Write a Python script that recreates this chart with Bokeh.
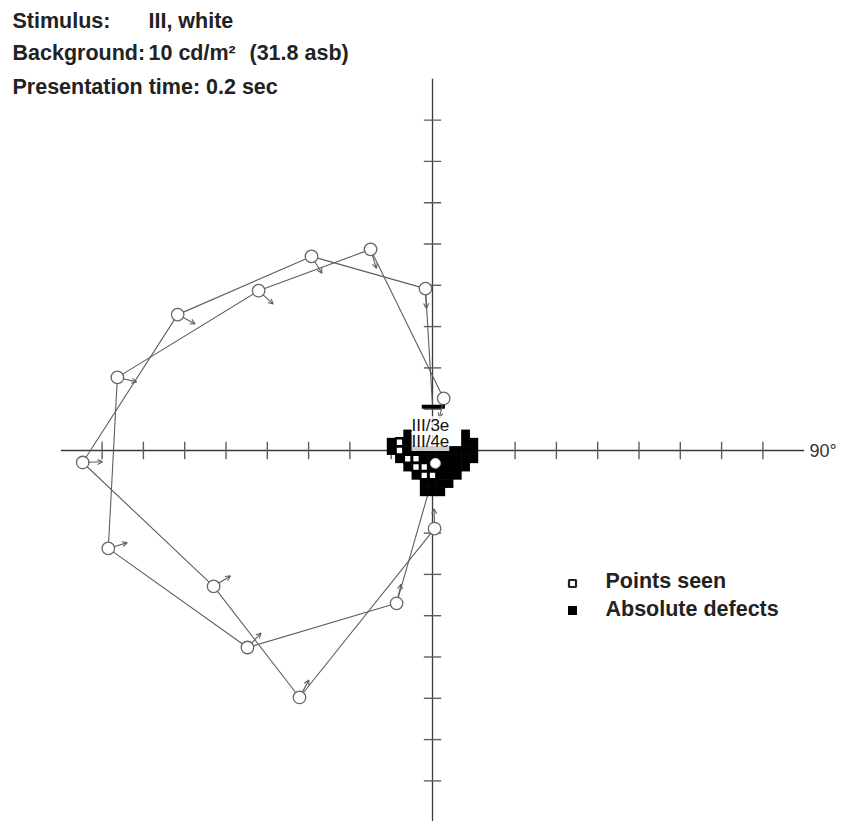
from bokeh.plotting import figure
from bokeh.models import Range1d, Label, Arrow, OpenHead, ColumnDataSource
from bokeh.embed import file_html
from bokeh.resources import INLINE
import math

# ---------------- data (degrees of visual field) ----------------
tick_values = [10, 20, 30, 40, 50, 60, 70, 80]
axis_limit = 90

# isopter A (outer path), first point is the end at the central scotoma
iso_a_x = [0.0, -1.7, -29.3, -61.7, -84.7, -53.0, -32.2, 0.5]
iso_a_y = [10.9, 39.2, 47.0, 32.9, -2.9, -32.9, -59.8, -18.9]
iso_a_seen = [False, True, True, True, True, True, True, True]

# isopter B, last point is the end at the central scotoma
iso_b_x = [2.7, -15.0, -42.1, -76.3, -78.5, -44.8, -8.7, -1.0]
iso_b_y = [12.6, 48.7, 38.7, 17.7, -23.7, -47.7, -37.0, -10.2]
iso_b_seen = [True, True, True, True, True, True, True, False]

# inner kinetic points
inner_x = [1.2, 0.7]
inner_y = [2.2, -3.1]

# static grid: absolute defects (rows -> x positions)
defect_rows = {
    4: [-6, 8],
    2: [-10, -6, 8, 10],
    0: [-10, -6, -4, -2, 0, 2, 4, 6, 8, 10],
    -2: [-8, -2, 0, 2, 4, 6, 8, 10],
    -4: [-6, 0, 2, 4, 6, 8],
    -6: [-4, 2, 4, 6],
    -8: [-2, 0, 2, 4],
    -10: [-2, 0, 2],
}
seen_grid_x = [-8, -8, -6, -4, -4, -2, -2, 0]
seen_grid_y = [2, 0, -2, -2, -4, -4, -6, -6]

bar_x = [-2.6, 3.0]
bar_y = [10.6, 10.6]

isopter_labels = ["III/3e", "III/4e"]
legend_labels = ["Points seen", "Absolute defects"]
header_keys = ["Stimulus:", "Background:", "Presentation time: 0.2 sec"]
header_vals = [["III, white"], ["10 cd/m\u00b2", "(31.8 asb)"], []]

# ---------------- layout helpers (page pixels -> degrees) ----------------
S = 4.13
CX, CY = 432.0, 450.0
OFF = 0
W, H = 841, 821


def dx(px):
    return (px - CX) / S


def dy(py):
    return (CY - py) / S


p = figure(width=W, height=H, output_backend="svg", toolbar_location=None,
           x_range=Range1d(dx(OFF), dx(OFF + W)), y_range=Range1d(dy(OFF + H), dy(OFF)),
           x_axis_location=None, y_axis_location=None, min_border=0,
           outline_line_color=None, background_fill_color="white",
           border_fill_color="white")
p.xgrid.visible = False
p.ygrid.visible = False

AX = "#3a3a3a"
LN = "#5e5e5e"

# axes
p.segment(x0=[-axis_limit, 0], y0=[0, -axis_limit], x1=[axis_limit, 0], y1=[0, axis_limit],
          line_color=AX, line_width=1.3)
tl = 2.1
tx = [s * t for t in tick_values for s in (-1, 1)]
p.segment(x0=tx, y0=[-tl] * len(tx), x1=tx, y1=[tl] * len(tx), line_color=LN, line_width=1.4)
p.segment(x0=[-tl] * len(tx), y0=tx, x1=[tl] * len(tx), y1=tx, line_color=LN, line_width=1.4)

# isopter lines
p.line(iso_a_x, iso_a_y, line_color=LN, line_width=1.1)
p.line(iso_b_x, iso_b_y, line_color=LN, line_width=1.1)

# arrows (direction towards fixation)
xs, ys, xe, ye, cx_, cy_ = [], [], [], [], [], []
for X, Y, SEEN in zip(iso_a_x + iso_b_x, iso_a_y + iso_b_y, iso_a_seen + iso_b_seen):
    if not SEEN:
        continue
    r = math.hypot(X, Y)
    ux, uy = -X / r, -Y / r
    xs.append(X + 1.4 * ux); ys.append(Y + 1.4 * uy)
    xe.append(X + 4.8 * ux); ye.append(Y + 4.8 * uy)
    cx_.append(X); cy_.append(Y)
asrc = ColumnDataSource(dict(xs=xs, ys=ys, xe=xe, ye=ye))
p.add_layout(Arrow(end=OpenHead(size=5, line_color=LN, line_width=1.1), source=asrc,
                   x_start="xs", y_start="ys", x_end="xe", y_end="ye",
                   line_color=LN, line_width=1.1))

p.scatter(cx_, cy_, marker="circle", size=12.5, fill_color="white", line_color="#666666", line_width=1.3)

# central static grid
d_x, d_y = [], []
for row, cols in defect_rows.items():
    for c in cols:
        d_x.append(c); d_y.append(row)
p.scatter(d_x, d_y, marker="square", size=8.8, fill_color="black", line_color="black", line_width=0)
p.scatter(seen_grid_x, seen_grid_y, marker="square", size=7.8, fill_color="white",
          line_color="black", line_width=2.5)
p.line(bar_x, bar_y, line_color="black", line_width=4)
p.scatter(inner_x, inner_y, marker="circle", size=10, fill_color="white", line_color="#bbbbbb", line_width=1)

# isopter labels
for txt, py in zip(isopter_labels, [425, 441]):
    p.add_layout(Label(x=dx(411), y=dy(py), text=txt, text_font="Liberation Sans",
                       text_font_size="17px", text_baseline="middle", text_align="left",
                       text_color="#111111", background_fill_color="white",
                       background_fill_alpha=0.8))

# 90 degree label
p.add_layout(Label(x=dx(809), y=dy(450), text="90\u00b0", text_font="Liberation Sans",
                   text_font_size="18px", text_baseline="middle", text_align="left",
                   text_color="#333333"))

# header
for i, (k, vals) in enumerate(zip(header_keys, header_vals)):
    base = [20, 52, 86][i]
    p.add_layout(Label(x=dx(12), y=dy(base), text=k, text_font="Liberation Sans",
                       text_font_style="bold", text_font_size="21.5px",
                       text_baseline="alphabetic", text_color="#222222"))
    for v, px in zip(vals, [148, 249]):
        p.add_layout(Label(x=dx(px), y=dy(base), text=v, text_font="Liberation Sans",
                           text_font_style="bold", text_font_size="21.5px",
                           text_baseline="alphabetic", text_color="#222222"))

# legend
p.scatter([dx(572)], [dy(583)], marker="square", size=7, fill_color="white",
          line_color="#222222", line_width=2.2)
p.scatter([dx(572)], [dy(610)], marker="square", size=9, fill_color="black",
          line_color="black", line_width=0)
for txt, py in zip(legend_labels, [580, 608]):
    p.add_layout(Label(x=dx(605), y=dy(py), text=txt, text_font="Liberation Sans",
                       text_font_style="bold", text_font_size="21.5px",
                       text_baseline="middle", text_align="left", text_color="#222222"))

open("out.html", "w").write(file_html(p, INLINE))
